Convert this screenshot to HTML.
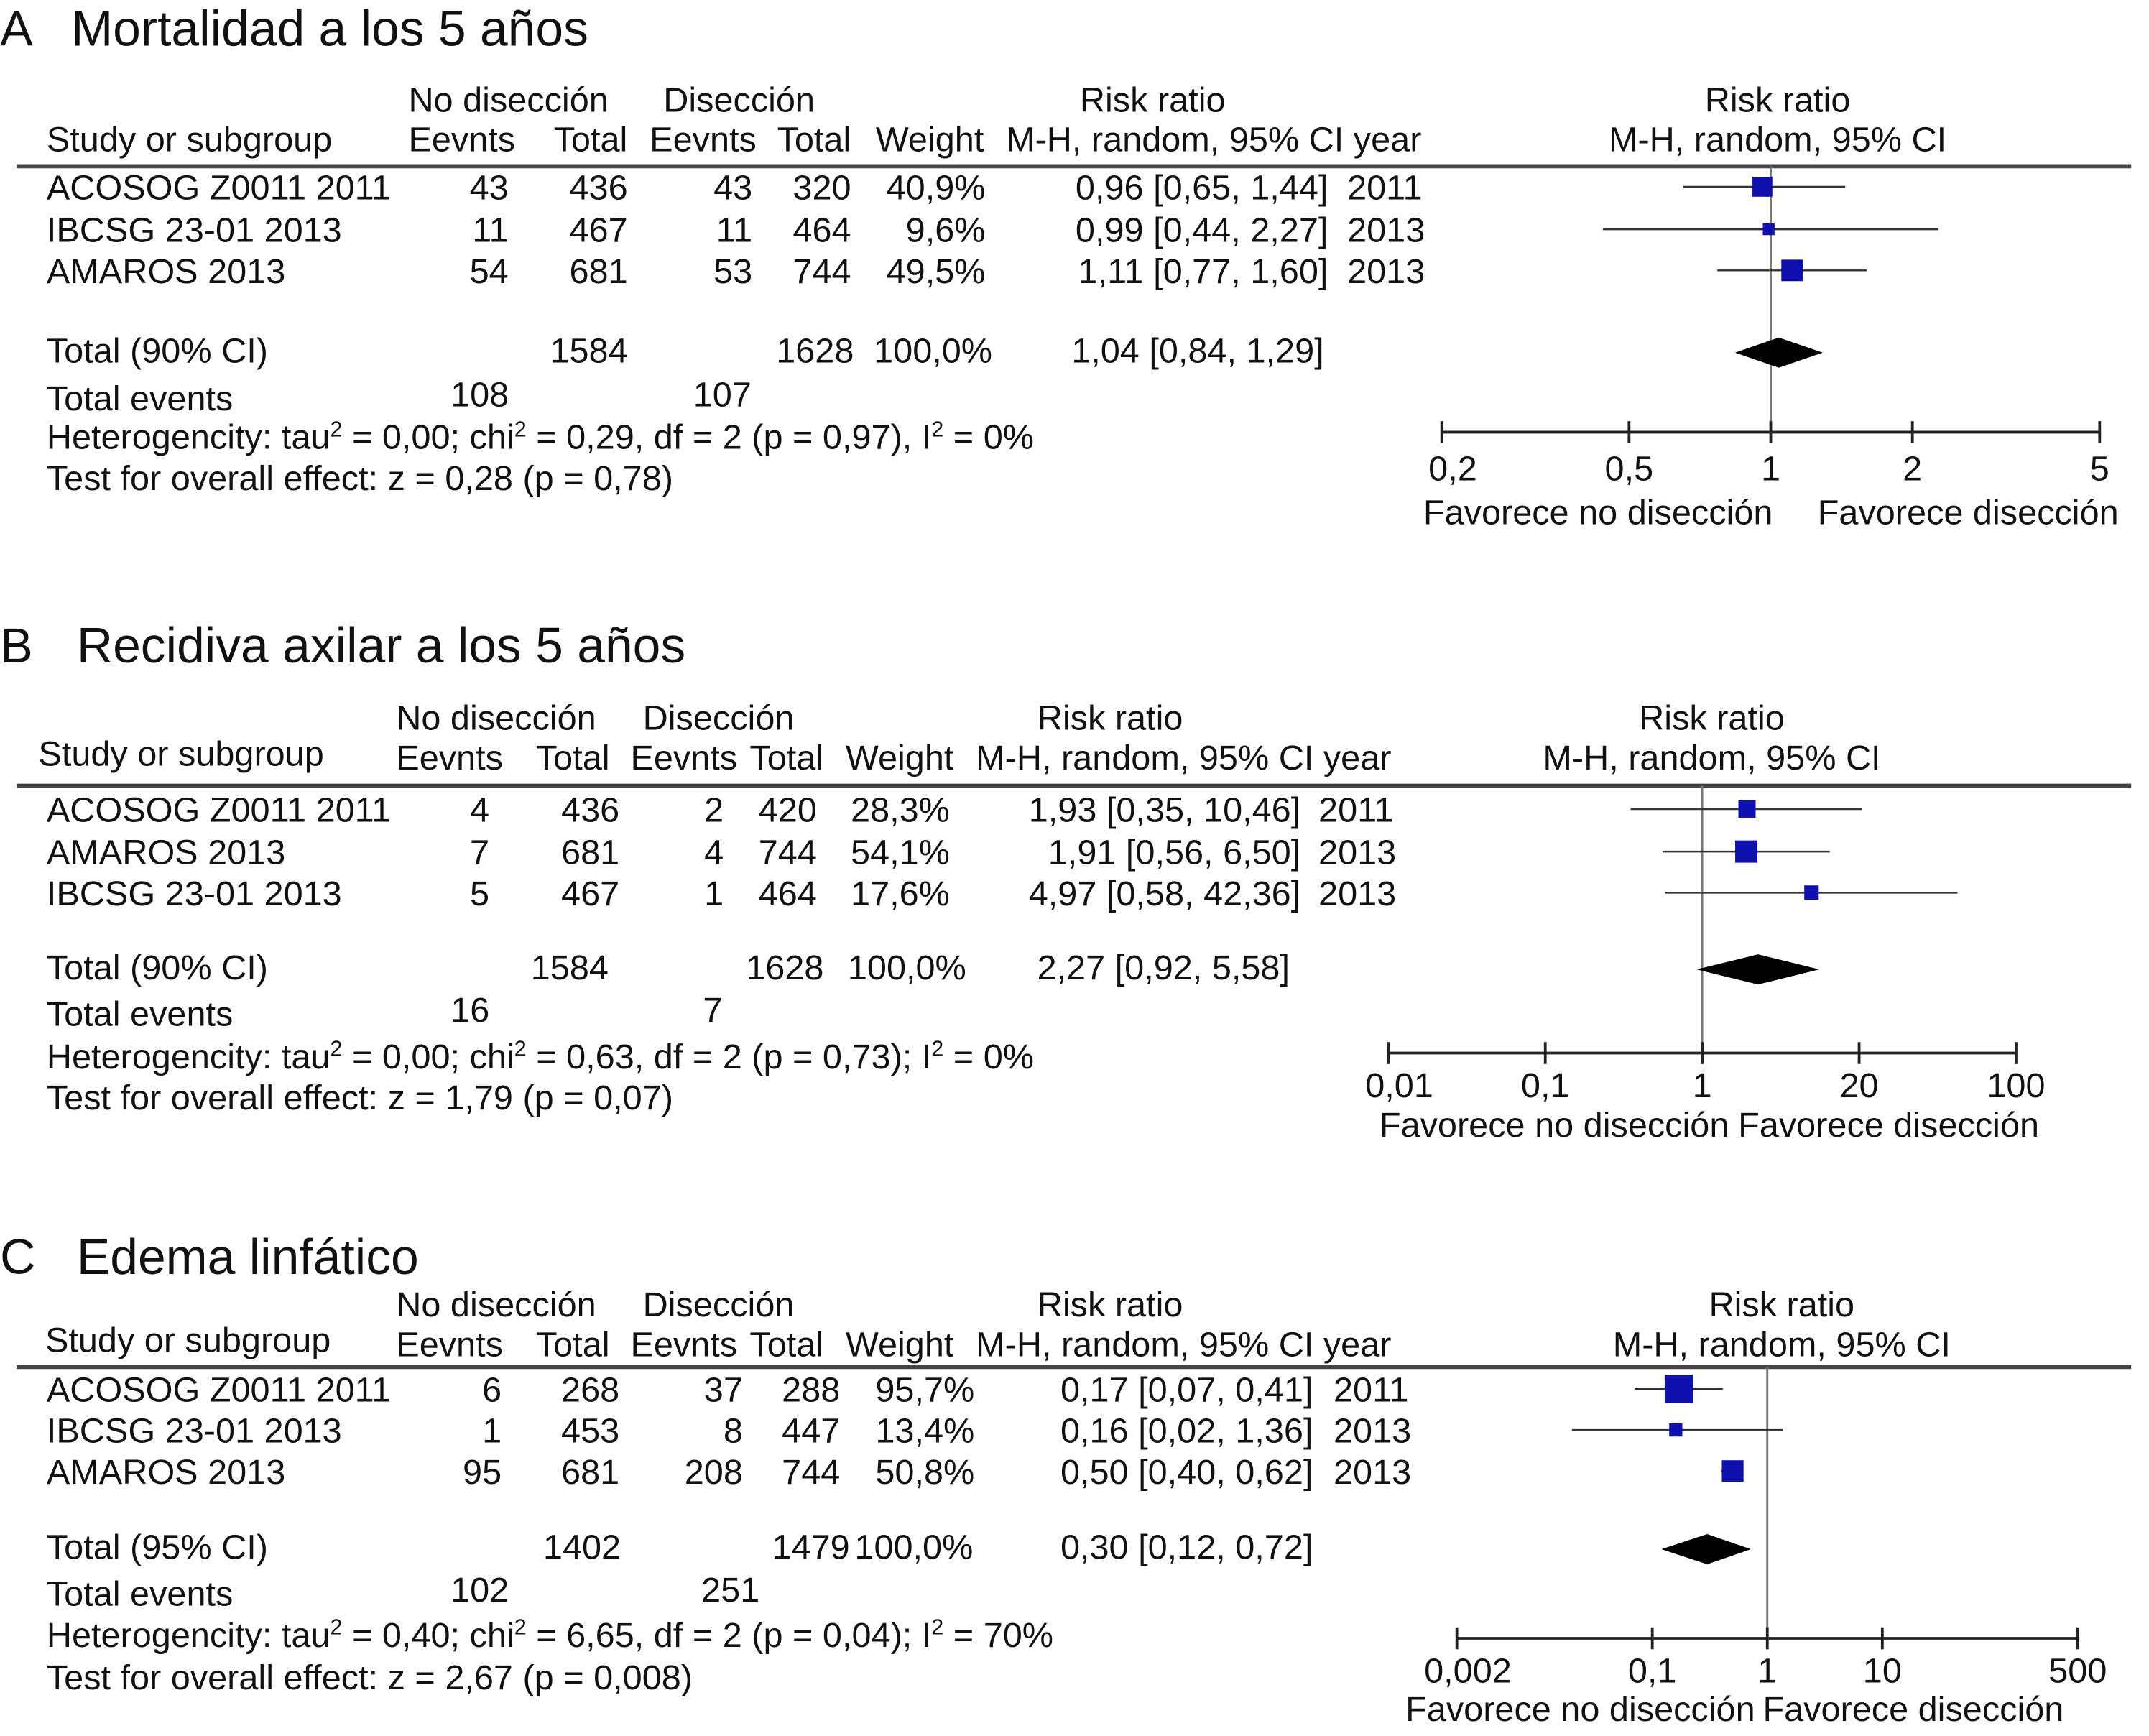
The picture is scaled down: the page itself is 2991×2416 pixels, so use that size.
<!DOCTYPE html>
<html><head><meta charset="utf-8"><style>
html,body{margin:0;padding:0;background:#fff}
svg{display:block}
text{font-family:"Liberation Sans",Arial,sans-serif;fill:#111}
</style></head><body>
<svg id="chart" xmlns="http://www.w3.org/2000/svg" width="2991" height="2416" viewBox="0 0 1568 1266"></svg>
<script>
// ---- Panel data ----
const letters = ["A","B","C"];
const titles = ["Mortalidad a los 5 años","Recidiva axilar a los 5 años","Edema linfático"];
const studiesA = ["ACOSOG Z0011 2011","IBCSG 23-01 2013","AMAROS 2013"];
const studiesB = ["ACOSOG Z0011 2011","AMAROS 2013","IBCSG 23-01 2013"];
const studiesC = ["ACOSOG Z0011 2011","IBCSG 23-01 2013","AMAROS 2013"];
const evNoA=[43,11,54], totNoA=[436,467,681], evDiA=[43,11,53], totDiA=[320,464,744], weightA=[40.9,9.6,49.5];
const evNoB=[4,7,5], totNoB=[436,681,467], evDiB=[2,4,1], totDiB=[420,744,464], weightB=[28.3,54.1,17.6];
const evNoC=[6,1,95], totNoC=[268,453,681], evDiC=[37,8,208], totDiC=[288,447,744], weightC=[95.7,13.4,50.8];
const rrA=[0.96,0.99,1.11], loA=[0.65,0.44,0.77], hiA=[1.44,2.27,1.60];
const rrB=[1.93,1.91,4.97], loB=[0.35,0.56,0.58], hiB=[10.46,6.50,42.36];
const rrC=[0.17,0.16,0.50], loC=[0.07,0.02,0.40], hiC=[0.41,1.36,0.62];
const yearsA=[2011,2013,2013], yearsB=[2011,2013,2013], yearsC=[2011,2013,2013];
const totalA=[1.04,0.84,1.29], totalB=[2.27,0.92,5.58], totalC=[0.30,0.12,0.72];
const sumsA=[1584,1628,108,107], sumsB=[1584,1628,16,7], sumsC=[1402,1479,102,251];
const ciLabel=["Total (90% CI)","Total (90% CI)","Total (95% CI)"];
const hetA=["0,00","0,29","0,97","0"], hetB=["0,00","0,63","0,73","0"], hetC=["0,40","6,65","0,04","70"];
const testA=["0,28","0,78"], testB=["1,79","0,07"], testC=["2,67","0,008"];
const ticksA=[0.2,0.5,1,2,5], tickLblA=["0,2","0,5","1","2","5"];
const ticksB=[0.01,0.1,1,10,100], tickLblB=["0,01","0,1","1","20","100"];
const ticksC=[0.002,0.1,1,10,500], tickLblC=["0,002","0,1","1","10","500"];

const svg=document.getElementById('chart');
const NS="http://www.w3.org/2000/svg";
const FS=25.5;
function el(tag,attrs,parent){const e=document.createElementNS(NS,tag);for(const k in attrs)e.setAttribute(k,attrs[k]);(parent||svg).appendChild(e);return e;}
function txt(s,x,y,anchor,size,parent,name){const sz=size||FS;const t=el('text',{x:x,y:y+sz*0.36,'text-anchor':anchor||'start','font-size':sz},parent);t.textContent=s;


return t;}
function fmt(v,d){return v.toFixed(d).replace('.',',');}

const layouts=[
 {g:'panel-a',titleY:20,h1:72,h2:101,rule:121,rows:[136,167,197],totY:255,evY:290,hetY:318,testY:348,axY:315,axL:341,fav:373,
  axMin:0.2,axMax:5,x0:1052,x1:1532,ticks:ticksA,tl:tickLblA,
  cols:{st:34,en:371,tn:458,ed:549,td:621,w:719,rr:969,yr:983},hdr:{nd:298,d:484,rrc:841,sg:34,e1:298,t1:404,e2:474,t2:567,w:639,mh:734,rc:1297},
  totc:{tn:458,td:623,w:724,rr:966,en:350,ed:527},fav1:1166,fav2:1436,
  studies:studiesA,en:evNoA,tn:totNoA,ed:evDiA,td:totDiA,w:weightA,rr:rrA,lo:loA,hi:hiA,yr:yearsA,tot:totalA,sums:sumsA,het:hetA,tst:testA},
 {g:'panel-b',titleY:470,h1:523,h2:552,rule:573,rows:[590,621,651],totY:705,evY:739,hetY:770,testY:800,axY:768,axL:791,fav:820,
  axMin:0.01,axMax:100,x0:1013,x1:1471,ticks:ticksB,tl:tickLblB,
  cols:{st:34,en:357,tn:452,ed:528,td:596,w:693,rr:949,yr:962},hdr:{nd:289,d:469,rrc:810,sg:28,e1:289,t1:391,e2:460,t2:547,w:617,mh:712,rc:1249},
  totc:{tn:444,td:601,w:705,rr:941,en:343,ed:520},fav1:1134,fav2:1378,
  studies:studiesB,en:evNoB,tn:totNoB,ed:evDiB,td:totDiB,w:weightB,rr:rrB,lo:loB,hi:hiB,yr:yearsB,tot:totalB,sums:sumsB,het:hetB,tst:testB},
 {g:'panel-c',titleY:916,h1:951,h2:980,rule:997,rows:[1013,1043,1073],totY:1128,evY:1162,hetY:1192,testY:1223,axY:1195,axL:1218,fav:1246,
  axMin:0.002,axMax:500,x0:1063,x1:1516,ticks:ticksC,tl:tickLblC,
  cols:{st:34,en:366,tn:452,ed:542,td:613,w:711,rr:958,yr:973},hdr:{nd:289,d:469,rrc:810,sg:33,e1:289,t1:391,e2:460,t2:547,w:617,mh:712,rc:1300},
  totc:{tn:453,td:620,w:710,rr:958,en:350,ed:533},fav1:1153,fav2:1396,
  studies:studiesC,en:evNoC,tn:totNoC,ed:evDiC,td:totDiC,w:weightC,rr:rrC,lo:loC,hi:hiC,yr:yearsC,tot:totalC,sums:sumsC,het:hetC,tst:testC}
];

layouts.forEach((L,p)=>{
 const g=el('g',{});
 
 
 const xs=v=>L.x0+(Math.log10(v)-Math.log10(L.axMin))/(Math.log10(L.axMax)-Math.log10(L.axMin))*(L.x1-L.x0);
 txt(letters[p],0,L.titleY,'start',36,g,'panel-letter');
 txt(titles[p],p==0?52:56,L.titleY,'start',36.5,g,'panel-title');
 const H=L.hdr;
 txt("No disección",H.nd,L.h1,'start',FS,g,'header-no-diseccion');
 txt("Disección",H.d,L.h1,'start',FS,g,'header-diseccion');
 txt("Risk ratio",H.rrc,L.h1,'middle',FS,g,'header-risk-ratio');
 txt("Risk ratio",H.rc,L.h1,'middle',FS,g,'header-plot-risk-ratio');
 txt("Study or subgroup",H.sg,L.h2-(p?3:0),'start',FS,g,'header-study');
 txt("Eevnts",H.e1,L.h2,'start',FS,g,'header-events');
 txt("Total",H.t1,L.h2,'start',FS,g,'header-total');
 txt("Eevnts",H.e2,L.h2,'start',FS,g,'header-events');
 txt("Total",H.t2,L.h2,'start',FS,g,'header-total');
 txt("Weight",H.w,L.h2,'start',FS,g,'header-weight');
 txt("M-H, random, 95% CI year",H.mh,L.h2,'start',FS,g,'header-mh');
 txt("M-H, random, 95% CI",H.rc,L.h2,'middle',FS,g,'header-plot-mh');
 const r=el('line',{x1:12,x2:1555,y1:L.rule,y2:L.rule,stroke:'#444','stroke-width':3},g);
 
 
 const C=L.cols;
 const v1=el('line',{x1:xs(1),x2:xs(1),y1:L.rule,y2:L.axY,stroke:'#777','stroke-width':1.5},g);
 
 
 L.studies.forEach((s,i)=>{
  const y=L.rows[i];
  txt(s,C.st,y,'start',FS,g,'study-name');
  txt(String(L.en[i]),C.en,y,'end',FS,g,'events-no-diseccion');
  txt(String(L.tn[i]),C.tn,y,'end',FS,g,'total-no-diseccion');
  txt(String(L.ed[i]),C.ed,y,'end',FS,g,'events-diseccion');
  txt(String(L.td[i]),C.td,y,'end',FS,g,'total-diseccion');
  txt(fmt(L.w[i],1)+"%",C.w,y,'end',FS,g,'weight');
  txt(fmt(L.rr[i],2)+" ["+fmt(L.lo[i],2)+", "+fmt(L.hi[i],2)+"]",C.rr,y,'end',FS,g,'risk-ratio-ci');
  txt(String(L.yr[i]),C.yr,y,'start',FS,g,'year');
  const ci=el('line',{x1:xs(L.lo[i]),x2:xs(L.hi[i]),y1:y,y2:y,stroke:'#333','stroke-width':1.3},g);
  
  
  const sz=3+Math.sqrt(L.w[i])*1.8;
  const sq=el('rect',{x:xs(L.rr[i])-sz/2,y:y-sz/2,width:sz,height:sz,fill:'#1010b0'},g);
  
  
 });
 const T=L.totc;
 txt(ciLabel[p],34,L.totY,'start',FS,g,'total-label');
 txt(String(L.sums[0]),T.tn,L.totY,'end',FS,g,'total-no-diseccion');
 txt(String(L.sums[1]),T.td,L.totY,'end',FS,g,'total-diseccion');
 txt("100,0%",T.w,L.totY,'end',FS,g,'total-weight');
 txt(fmt(L.tot[0],2)+" ["+fmt(L.tot[1],2)+", "+fmt(L.tot[2],2)+"]",T.rr,L.totY,'end',FS,g,'total-risk-ratio');
 const dy=L.totY+2;
 const dm=el('polygon',{points:`${xs(L.tot[1])},${dy} ${xs(L.tot[0])},${dy-11} ${xs(L.tot[2])},${dy} ${xs(L.tot[0])},${dy+11}`,fill:'#000'},g);
 
 
 txt("Total events",34,L.evY,'start',FS,g,'total-events-label');
 txt(String(L.sums[2]),T.en,L.evY-3,'middle',FS,g,'total-events-no-diseccion');
 txt(String(L.sums[3]),T.ed,L.evY-3,'middle',FS,g,'total-events-diseccion');
 const h=txt("",34,L.hetY,'start',FS,g,'heterogeneity');
 h.innerHTML=`Heterogencity: tau<tspan dy="-9" font-size="16">2</tspan><tspan dy="9"> = ${L.het[0]}; chi</tspan><tspan dy="-9" font-size="16">2</tspan><tspan dy="9"> = ${L.het[1]}, df = 2 (p = ${L.het[2]})${p==0?',':';'} I</tspan><tspan dy="-9" font-size="16">2</tspan><tspan dy="9"> = ${L.het[3]}%</tspan>`;
 txt(`Test for overall effect: z = ${L.tst[0]} (p = ${L.tst[1]})`,34,L.testY,'start',FS,g,'overall-effect');
 const ax=el('line',{x1:L.x0,x2:L.x1,y1:L.axY,y2:L.axY,stroke:'#222','stroke-width':2},g);
 
 
 L.ticks.forEach((t,i)=>{
  const tk=el('line',{x1:xs(t),x2:xs(t),y1:L.axY-8,y2:L.axY+8,stroke:'#222','stroke-width':2},g);
  
  
  txt(L.tl[i],xs(t)+(i==0?8:0),L.axL,'middle',FS,g,'x-tick-label');
 });
 txt("Favorece no disección",L.fav1,L.fav,'middle',FS,g,'favours-left-label');
 txt("Favorece disección",L.fav2,L.fav,'middle',FS,g,'favours-right-label');
});
</script>
</body></html>
